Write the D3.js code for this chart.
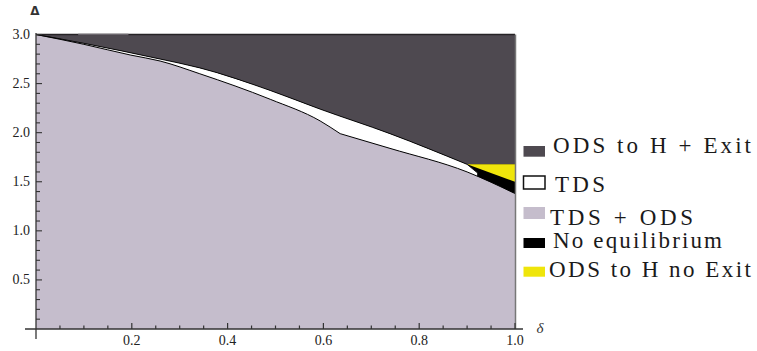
<!DOCTYPE html>
<html>
<head>
<meta charset="utf-8">
<script src="https://cdn.jsdelivr.net/npm/d3@7"></script>
<style>
  body { margin: 0; background: #fff; }
  svg { display: block; }
</style>
</head>
<body>
<div id="chart"></div>
<script>
// region boundaries: [delta, Delta]
const upperCurve = [[0, 3.0], [0.10, 2.91], [0.259, 2.75], [0.342, 2.66], [0.489, 2.43],
  [0.593, 2.24], [0.739, 1.99], [0.900, 1.677]];
// lower boundary has a sharp kink near delta = 0.635
const lowerLeft = [[0, 3.0], [0.10, 2.90], [0.198, 2.79], [0.259, 2.73], [0.342, 2.60],
  [0.489, 2.34], [0.593, 2.12], [0.635, 1.99]];
const lowerRight = [[0.635, 1.99], [0.739, 1.84], [0.900, 1.60], [1.0, 1.38]];
const whiteTip = [0.921, 1.593];
const yellowTop = [[0.900, 1.677], [1.0, 1.677]];
const yellowBottom = [[0.900, 1.677], [1.0, 1.50]];

const xTicks = [0.2, 0.4, 0.6, 0.8, 1.0];
const yTicks = [0.5, 1.0, 1.5, 2.0, 2.5, 3.0];

const legendLabels = ["ODS to H + Exit", "TDS", "TDS + ODS", "No equilibrium", "ODS to H no Exit"];
const legendColors = ["#4e4950", "#ffffff", "#c5bdcc", "#000000", "#efe50b"];

const width = 757, height = 351;

const x = d3.scaleLinear().domain([0, 1]).range([36, 515]);
const y = d3.scaleLinear().domain([0, 3]).range([329, 34.5]);

const svg = d3.select("#chart")
  .append("svg")
  .attr("width", width)
  .attr("height", height);

const plot = svg.append("g");

const mono = d3.line().x(d => x(d[0])).y(d => y(d[1])).curve(d3.curveMonotoneX);
const pt = d => `L${x(d[0])},${y(d[1])}`;

const upperPath = mono(upperCurve);
const lowerPath = mono(lowerLeft) + mono(lowerRight).replace(/^M/, "L");

// black background = "no equilibrium" wherever nothing else covers it
plot.append("rect")
  .attr("x", x(0)).attr("y", y(3))
  .attr("width", x(1) - x(0)).attr("height", y(0) - y(3))
  .attr("fill", "#000");

// white TDS band
plot.append("path")
  .attr("fill", "#fff")
  .attr("d", upperPath + pt(whiteTip) + pt([whiteTip[0], 0]) + pt([0, 0]) + "Z");

// dark region on top
plot.append("path")
  .attr("fill", legendColors[0])
  .attr("d", upperPath + pt(yellowTop[1]) + pt([1, 3]) + pt([0, 3]) + "Z");

// yellow wedge
plot.append("path")
  .attr("fill", legendColors[4])
  .attr("d", d3.line()([...yellowTop, yellowBottom[1]].map(d => [x(d[0]), y(d[1])])) + "Z");

// lavender lower region
plot.append("path")
  .attr("fill", legendColors[2])
  .attr("d", lowerPath + pt([1, 0]) + pt([0, 0]) + "Z");

// boundary lines
plot.append("path")
  .attr("fill", "none").attr("stroke", "#000").attr("stroke-width", 1)
  .attr("d", lowerPath);
plot.append("path")
  .attr("fill", "none").attr("stroke", "#000").attr("stroke-width", 0.9)
  .attr("d", upperPath + pt(whiteTip));

// frame edges at Delta = 3 and delta = 1
plot.append("line")
  .attr("x1", x(0)).attr("x2", x(1)).attr("y1", y(3)).attr("y2", y(3))
  .attr("stroke", "#262326").attr("stroke-width", 1.5);
plot.append("line")
  .attr("x1", x(0.088)).attr("x2", x(0.193)).attr("y1", y(3)).attr("y2", y(3))
  .attr("stroke", "#6c676e").attr("stroke-width", 1.5);
plot.append("line")
  .attr("x1", x(1) + 0.5).attr("x2", x(1) + 0.5).attr("y1", y(3)).attr("y2", y(0))
  .attr("stroke", "#777").attr("stroke-width", 1.5);

// axes, Mathematica style
const axes = svg.append("g").attr("stroke", "#333").attr("stroke-width", 1.3);
axes.append("line")
  .attr("x1", x(0) - 11).attr("x2", x(1) + 8).attr("y1", y(0)).attr("y2", y(0));
axes.append("line")
  .attr("x1", x(0)).attr("x2", x(0)).attr("y1", y(3) - 1.5).attr("y2", y(0) + 10);

const xMinor = d3.range(1, 21).map(i => i * 0.05);
axes.selectAll(".xt")
  .data(xMinor)
  .join("line")
  .attr("x1", d => x(d)).attr("x2", d => x(d))
  .attr("y1", y(0))
  .attr("y2", (d, i) => y(0) - ((i + 1) % 4 === 0 ? 6 : 3.5))
  .attr("stroke-width", 1.2);

const yMinor = d3.range(1, 31).map(i => i * 0.1);
axes.selectAll(".yt")
  .data(yMinor)
  .join("line")
  .attr("y1", d => y(d)).attr("y2", d => y(d))
  .attr("x1", x(0))
  .attr("x2", (d, i) => x(0) + ((i + 1) % 5 === 0 ? 6 : 4))
  .attr("stroke-width", 1.1);

svg.append("g")
  .attr("font-family", "Liberation Serif, serif")
  .attr("font-size", 14)
  .attr("fill", "#222")
  .attr("text-anchor", "middle")
  .selectAll("text")
  .data(xTicks)
  .join("text")
  .attr("x", d => x(d))
  .attr("y", y(0) + 16)
  .text(d => d.toFixed(1));

svg.append("g")
  .attr("font-family", "Liberation Serif, serif")
  .attr("font-size", 14)
  .attr("fill", "#222")
  .attr("text-anchor", "end")
  .selectAll("text")
  .data(yTicks)
  .join("text")
  .attr("x", x(0) - 6)
  .attr("y", d => y(d) + 4.5)
  .text(d => d.toFixed(1));

svg.append("text")
  .attr("x", x(0) - 1).attr("y", 15)
  .attr("text-anchor", "middle")
  .attr("font-family", "DejaVu Sans, sans-serif")
  .attr("font-weight", "bold")
  .attr("font-size", 12)
  .attr("fill", "#333")
  .text("Δ");

svg.append("text")
  .attr("x", x(1) + 25).attr("y", y(0) + 4)
  .attr("text-anchor", "middle")
  .attr("font-family", "Liberation Serif, serif")
  .attr("font-style", "italic")
  .attr("font-size", 15)
  .attr("fill", "#333")
  .text("δ");

// legend (rows sit unevenly in the original)
const rowBase = [153, 191.5, 225, 248.3, 276.7];
const swTop = [146, 176, 207, 238, 266.7];
const swH = [10.7, 13, 12, 10, 10];
const textLen = [198, 50, 143, 169, 202];
const textX = [553, 555, 550, 553, 549];

const legend = svg.append("g");
legend.selectAll("rect")
  .data(legendLabels)
  .join("rect")
  .attr("x", 523.5)
  .attr("y", (d, i) => swTop[i])
  .attr("width", 21.5)
  .attr("height", (d, i) => swH[i])
  .attr("fill", (d, i) => legendColors[i])
  .attr("stroke", (d, i) => i === 1 ? "#111" : "none")
  .attr("stroke-width", 1.5);

legend.selectAll("text")
  .data(legendLabels)
  .join("text")
  .attr("x", (d, i) => textX[i])
  .attr("y", (d, i) => rowBase[i])
  .attr("font-family", "Liberation Serif, serif")
  .attr("font-size", 23)
  .attr("fill", "#1a1a1a")
  .attr("textLength", (d, i) => textLen[i])
  .attr("lengthAdjust", "spacing")
  .text(d => d);
</script>
</body>
</html>
